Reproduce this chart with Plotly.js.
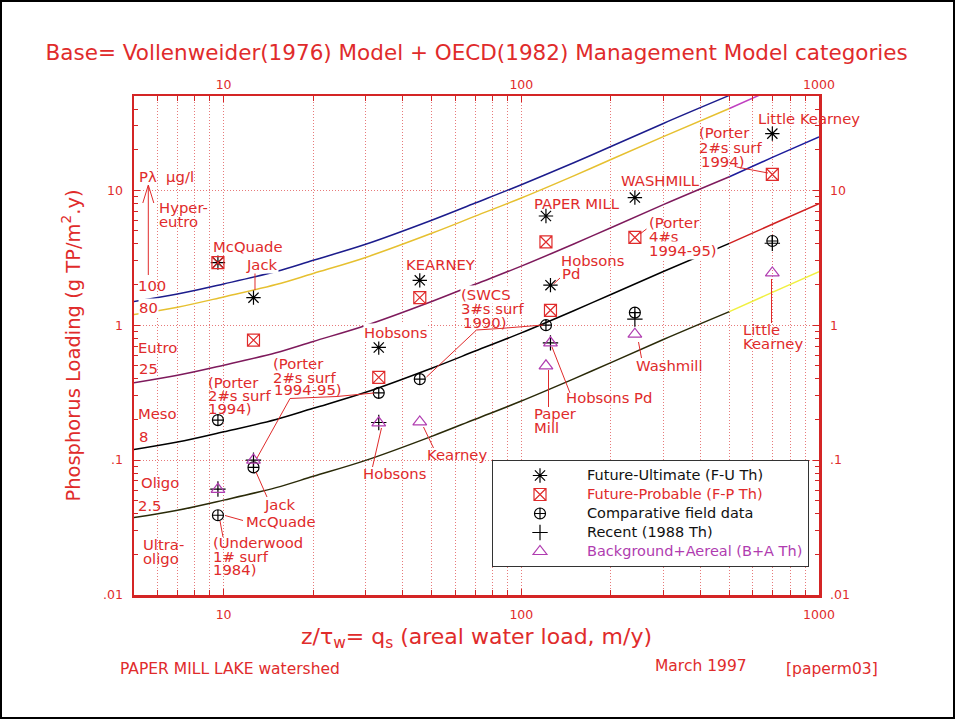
<!DOCTYPE html>
<html><head><meta charset="utf-8">
<script src="https://cdn.plot.ly/plotly-3.0.1.min.js"></script>
<style>html,body{margin:0;padding:0;background:#fff}#chart{width:961px;height:722px}</style>
</head><body><div id="chart"></div>
<script>
// ---------- model curves (Vollenweider 1976 critical loadings) ----------
const qsGrid   = [5, 7, 10, 15, 20, 30, 50, 70, 100, 150, 200, 300, 500, 700, 1000];
const loadP100 = [1.50, 1.70, 2.02, 2.50, 3.03, 3.98, 6.0, 8.04, 11.0, 16.0, 21.1, 31.3, 50.5, 70.2, 99.5];
const loadP80  = [1.20, 1.36, 1.62, 2.00, 2.42, 3.18, 4.80, 6.43, 8.77, 12.8, 16.9, 25.0, 40.4, 56.2, 79.6];
const loadP25  = [0.375, 0.425, 0.505, 0.625, 0.758, 0.995, 1.50, 2.01, 2.74, 4.00, 5.28, 7.83, 12.6, 17.6, 24.9];
const loadP8   = [0.120, 0.136, 0.162, 0.200, 0.242, 0.318, 0.480, 0.643, 0.877, 1.28, 1.69, 2.50, 4.04, 5.62, 7.96];
const loadP2_5 = [0.0375, 0.0425, 0.0505, 0.0625, 0.0758, 0.0995, 0.150, 0.201, 0.274, 0.400, 0.528, 0.783, 1.26, 1.76, 2.49];
const colorSplitQs = 500;

// ---------- lake data ----------
const fuQs   = [9.57, 12.6, 33.2, 45.6, 121, 125.3, 240.7, 697];
const fuLoad = [2.91, 1.60, 0.684, 2.15, 6.45, 1.98, 8.83, 26.3];
const fpQs   = [9.57, 12.6, 33.2, 45.6, 121, 125.3, 240.7, 697];
const fpLoad = [2.91, 0.774, 0.41, 1.60, 4.14, 1.29, 4.47, 13.1];
const cfQs   = [9.57, 9.57, 12.6, 33.2, 45.6, 121, 240.7, 697];
const cfLoad = [0.198, 0.039, 0.0883, 0.315, 0.398, 1.0, 1.24, 4.21];
const recQs   = [9.57, 12.6, 33.2, 125.3, 240.7, 697];
const recLoad = [0.061, 0.1, 0.19, 0.74, 1.11, 4.05];
const baQs   = [9.57, 12.6, 33.2, 45.6, 121, 125.3, 240.7, 697];
const baLoad = [0.0607, 0.1, 0.189, 0.192, 0.50, 0.74, 0.858, 2.44];

const seriesNames = ['Future-Ultimate (F-U Th)', 'Future-Probable (F-P Th)', 'Comparative field data', 'Recent (1988 Th)', 'Background+Aereal (B+A Th)'];
const xTickVals = [10, 100, 1000];
const xTickText = ['10', '100', '1000'];
const yTickVals = [0.01, 0.1, 1, 10];
const yTickText = ['.01', '.1', '1', '10'];

// ---------- styles ----------
const RED = '#e02b2b', AXRED = '#d42525', GRID = '#e77a7a', PURPLE = '#b03cb0';
const FONT = 'DejaVu Sans';
const L = 134, R = 819, T = 96, B = 595;
const px = v => (v - L) / (R - L);
const py = v => (B - v) / (B - T);
const legName = (t, c) => '<span style="font-size:14.5px;color:' + c + '">' + t + '</span>';

function curve(load, colMain, colRight) {
  const i = qsGrid.indexOf(colorSplitQs);
  return [
    {x: qsGrid.slice(0, i + 1), y: load.slice(0, i + 1), mode: 'lines', line: {color: colMain, width: 1.5, shape: 'spline'}, showlegend: false, hoverinfo: 'skip'},
    {x: qsGrid.slice(i), y: load.slice(i), mode: 'lines', line: {color: colRight, width: 1.5, shape: 'spline'}, showlegend: false, hoverinfo: 'skip'}
  ];
}

const markerTraces = [
  {x: fuQs, y: fuLoad, name: legName(seriesNames[0], '#111'), mode: 'markers', marker: {symbol: 'asterisk-open', size: 12, color: '#000', line: {color: '#000', width: 1.2}}},
  {x: fpQs, y: fpLoad, name: legName(seriesNames[1], RED), mode: 'markers', marker: {symbol: 'square-x-open', size: 12, color: RED, line: {color: RED, width: 1.2}}},
  {x: cfQs, y: cfLoad, name: legName(seriesNames[2], '#111'), mode: 'markers', marker: {symbol: 'circle-cross-open', size: 11, color: '#000', line: {color: '#000', width: 1.2}}},
  {x: recQs, y: recLoad, name: legName(seriesNames[3], '#111'), mode: 'markers', marker: {symbol: 'cross-thin-open', size: 11, color: '#000', line: {color: '#000', width: 1.2}}},
  {x: baQs, y: baLoad, name: legName(seriesNames[4], PURPLE), mode: 'markers', marker: {symbol: 'triangle-up-open', size: 12, color: PURPLE, line: {color: PURPLE, width: 1.2}}}
].map(t => Object.assign(t, {xaxis: 'x2', yaxis: 'y2'}));

const traces = [].concat(
  curve(loadP100, '#1c1c8c', '#1c1c8c'),
  curve(loadP80, '#e6c030', '#c040c0'),
  curve(loadP25, '#7e1a5c', '#1c1c9c'),
  curve(loadP8, '#000000', '#d02020'),
  curve(loadP2_5, '#2a2a08', '#f0f040'),
  markerTraces
);

// ---------- text labels (text, left px, centre px, erase-behind) ----------
const labels = [
  ['P\u03bb  \u00b5g/l', 138, 176], ['Hyper-', 158, 207], ['eutro', 158, 221],
  ['100', 137, 285], ['80', 138, 307, true], ['Eutro', 137, 347], ['25', 138, 368],
  ['Meso', 137, 413], ['8', 138, 436], ['Oligo', 140, 482], ['2.5', 137, 506],
  ['Ultra-', 142, 544], ['oligo', 142, 558],
  ['McQuade', 212, 247], ['Jack', 245, 264, true],
  ['(Porter', 207, 382], ['2#s surf', 207, 395], ['1994)', 207, 408],
  ['(Porter', 272, 363], ['2#s surf', 272, 377], ['1994-95)', 273, 390],
  ['Jack', 263, 504], ['McQuade', 245, 521],
  ['(Underwood', 212, 542], ['1# surf', 212, 556], ['1984)', 212, 569],
  ['Hobsons', 363, 332, true], ['Hobsons', 362, 473], ['Kearney', 426, 455],
  ['KEARNEY', 405, 264],
  ['(SWCS', 460, 294, true], ['3#s surf', 460, 308], ['1990)', 462, 322],
  ['PAPER MILL', 533, 203], ['Hobsons', 560, 260], ['Pd', 561, 273],
  ['WASHMILL', 620, 181],
  ['(Porter', 648, 222], ['4#s', 648, 237], ['1994-95)', 648, 250, true],
  ['(Porter', 698, 133], ['2#s surf', 698, 147], ['1994)', 700, 161],
  ['Little Kearney', 757, 118], ['Little', 742, 329], ['Kearney', 742, 343],
  ['Washmill', 635, 365], ['Hobsons Pd', 565, 398], ['Paper', 533, 413], ['Mill', 533, 427]
];
const footer = [['PAPER MILL LAKE watershed', 119, 669], ['March 1997', 654, 666], ['[paperm03]', 785, 669]];

const annotations = labels.map(([t, x, y, erase]) => ({
  text: t, xref: 'paper', yref: 'paper', x: px(x), y: py(y), xanchor: 'left', yanchor: 'middle',
  showarrow: false, borderpad: 0, bgcolor: erase ? '#fff' : 'rgba(0,0,0,0)', font: {family: FONT, size: 14.8, color: RED}
})).concat(footer.map(([t, x, y]) => ({
  text: t, xref: 'paper', yref: 'paper', x: px(x), y: py(y), xanchor: 'left', yanchor: 'middle',
  showarrow: false, borderpad: 0, font: {family: FONT, size: 15.5, color: RED}
})));

// ---------- leader lines (pixel polylines) ----------
const leaders = [
  [[255, 272], [255, 290]],
  [[257, 458], [290, 398.5], [337, 396.5], [374, 393]],
  [[256, 472], [267, 497]],
  [[225, 515.5], [243, 520.5]],
  [[220, 521], [223, 537]],
  [[381.5, 428], [372.5, 467]],
  [[423.5, 427], [433.5, 448]],
  [[426.5, 377], [476.5, 330], [500, 328.5], [543, 325]],
  [[560, 278], [553.5, 284]],
  [[646.5, 229], [640, 234]],
  [[736.5, 167], [768, 173]],
  [[771.5, 323], [771.5, 279]],
  [[641.5, 358], [638.5, 342]],
  [[570, 393], [552, 347]],
  [[548.5, 407], [548.5, 370]],
  [[148.3, 275], [148.3, 186]],
  [[142.8, 203], [148.3, 185], [153.8, 203]]
];
const shapes = leaders.map(pts => ({
  type: 'path', xref: 'paper', yref: 'paper',
  path: pts.map((p, i) => (i ? 'L' : 'M') + px(p[0]).toFixed(5) + ',' + py(p[1]).toFixed(5)).join(' '),
  line: {color: RED, width: 1}
}));
// outer frame
shapes.push({type: 'rect', xref: 'paper', yref: 'paper', x0: px(1), x1: px(954), y0: py(718), y1: py(1), line: {color: '#000', width: 2}});

const xMinor = [6, 7, 8, 9, 20, 30, 40, 50, 60, 70, 80, 90, 200, 300, 400, 500, 600, 700, 800, 900];
const yMinor = [0.02, 0.03, 0.04, 0.05, 0.06, 0.07, 0.08, 0.09, 0.2, 0.3, 0.4, 0.5, 0.6, 0.7, 0.8, 0.9, 2, 3, 4, 5, 6, 7, 8, 9, 20, 30, 40];
const xRange = [Math.log10(5), 3];
const yRange = [-2, Math.log10(50)];
const tickFont = {family: FONT, size: 12.5, color: RED};
const DOTS = '1px,2px';

const layout = {
  width: 961, height: 722,
  margin: {l: L, r: 961 - R, t: T, b: 722 - B},
  paper_bgcolor: '#fff', plot_bgcolor: '#fff',
  title: {text: 'Base= Vollenweider(1976) Model + OECD(1982) Management Model categories',
          font: {family: FONT, size: 21.5, color: RED}, xref: 'container', yref: 'container', x: 0.496, y: 1 - 52 / 722, xanchor: 'center', yanchor: 'middle'},
  xaxis: {type: 'log', range: xRange, tickmode: 'array', tickvals: xTickVals, ticktext: xTickText,
          showgrid: true, gridcolor: GRID, griddash: DOTS, gridwidth: 1, ticks: 'inside', ticklen: 6, tickcolor: AXRED,
          minor: {tickvals: xMinor, ticks: 'inside', ticklen: 5, tickcolor: AXRED, showgrid: true, gridcolor: GRID, griddash: DOTS, gridwidth: 1},
          showline: true, linecolor: AXRED, linewidth: 2.5, zeroline: false, tickfont: tickFont, ticklabelstandoff: 6,
          title: {text: 'z/\u03c4<sub>w</sub>= q<sub>s</sub> (areal water load, m/y)', font: {family: FONT, size: 22, color: RED}, standoff: 8}},
  xaxis2: {type: 'log', range: xRange, overlaying: 'x', side: 'top', anchor: 'y', tickmode: 'array', tickvals: xTickVals, ticktext: xTickText,
           showgrid: false, ticks: 'inside', ticklen: 6, tickcolor: AXRED,
           minor: {tickvals: xMinor, ticks: 'inside', ticklen: 5, tickcolor: AXRED, showgrid: false},
           showline: true, linecolor: AXRED, linewidth: 2.5, zeroline: false, tickfont: tickFont},
  yaxis: {type: 'log', range: yRange, tickmode: 'array', tickvals: yTickVals, ticktext: yTickText,
          showgrid: true, gridcolor: GRID, griddash: DOTS, gridwidth: 1, ticks: 'inside', ticklen: 6, tickcolor: AXRED,
          minor: {tickvals: yMinor, ticks: 'inside', ticklen: 4, tickcolor: AXRED, showgrid: false},
          showline: true, linecolor: AXRED, linewidth: 2.5, zeroline: false, tickfont: tickFont, ticklabelstandoff: 6,
          title: {text: 'Phosphorus Loading (g TP/m<sup>2</sup>.y)', font: {family: FONT, size: 19.5, color: RED}, standoff: 18}},
  yaxis2: {type: 'log', range: yRange, overlaying: 'y', side: 'right', anchor: 'x', tickmode: 'array', tickvals: yTickVals, ticktext: yTickText,
           showgrid: false, ticks: 'inside', ticklen: 6, tickcolor: AXRED,
           minor: {tickvals: yMinor, ticks: 'inside', ticklen: 4, tickcolor: AXRED, showgrid: false},
           showline: true, linecolor: AXRED, linewidth: 2.5, zeroline: false, tickfont: tickFont, ticklabelstandoff: 6},
  legend: {x: px(492), y: py(460), xanchor: 'left', yanchor: 'top', bgcolor: '#fff', bordercolor: '#333', borderwidth: 1,
           font: {family: FONT, size: 12.3, color: '#111'}, itemwidth: 84, tracegroupgap: 0},
  showlegend: true,
  annotations: annotations,
  shapes: shapes
};

Plotly.newPlot('chart', traces, layout, {staticPlot: true, displayModeBar: false});
</script></body></html>
